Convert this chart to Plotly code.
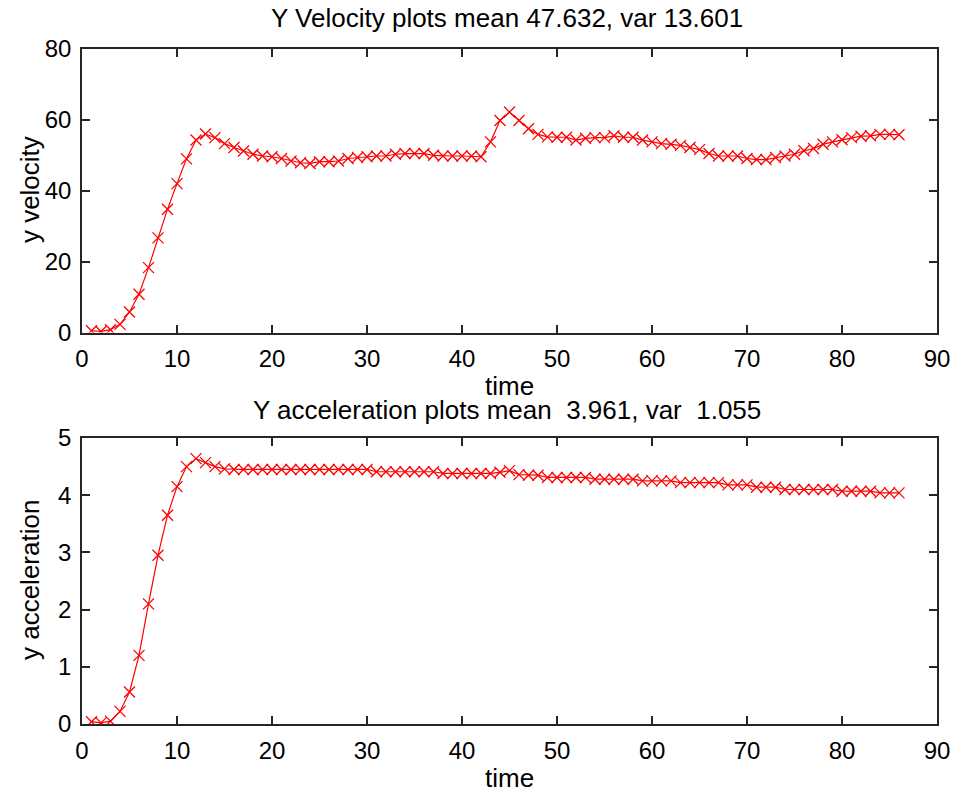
import plotly.graph_objects as go

time = list(range(1, 87))

y_velocity = [
    0.5, 0.3, 0.8, 2.3, 5.8, 10.8, 18.3, 26.7, 34.8, 42.0,
    49.0, 54.3, 56.0, 55.0, 53.3, 52.2, 51.2, 50.3, 49.8, 49.6,
    49.1, 48.4, 47.9, 47.7, 48.2, 48.2, 48.4, 49.1, 49.4, 49.6,
    49.8, 49.8, 50.3, 50.5, 50.5, 50.5, 50.0, 49.8, 49.8, 49.8,
    49.8, 49.6, 53.8, 59.8, 62.2, 59.8, 57.5, 55.9, 55.2, 55.1,
    55.1, 54.3, 54.8, 55.0, 55.0, 55.5, 55.1, 55.1, 54.3, 53.8,
    53.3, 53.1, 52.8, 52.2, 51.6, 50.5, 49.8, 49.8, 49.8, 49.1,
    48.8, 48.8, 49.4, 49.8, 50.3, 51.3, 51.9, 53.1, 53.8, 54.4,
    55.0, 55.4, 55.5, 55.9, 55.9, 55.8,
]

y_acceleration = [
    0.04, 0.02, 0.05, 0.22, 0.56, 1.20, 2.10, 2.95, 3.65, 4.15,
    4.50, 4.64, 4.57, 4.50, 4.46, 4.45, 4.45, 4.45, 4.45, 4.45,
    4.45, 4.45, 4.45, 4.45, 4.45, 4.45, 4.45, 4.45, 4.45, 4.45,
    4.41, 4.41, 4.41, 4.41, 4.41, 4.41, 4.41, 4.38, 4.38, 4.38,
    4.38, 4.38, 4.38, 4.40, 4.43, 4.36, 4.35, 4.35, 4.31, 4.31,
    4.31, 4.31, 4.31, 4.28, 4.28, 4.28, 4.28, 4.28, 4.25, 4.25,
    4.25, 4.25, 4.22, 4.22, 4.22, 4.22, 4.22, 4.18, 4.18, 4.18,
    4.14, 4.14, 4.14, 4.10, 4.10, 4.10, 4.10, 4.10, 4.10, 4.07,
    4.07, 4.07, 4.07, 4.04, 4.04, 4.04,
]

x_ticks = [0, 10, 20, 30, 40, 50, 60, 70, 80, 90]
vel_ticks = [0, 20, 40, 60, 80]
acc_ticks = [0, 1, 2, 3, 4, 5]

title_top = "Y Velocity plots mean 47.632, var 13.601"
title_bottom = "Y acceleration plots mean\u00a0\u00a03.961, var\u00a0\u00a01.055"

FONT = "Liberation Sans, Arial, sans-serif"
RED = "#ff0000"
AX = "#262626"

fig = go.Figure()
for xa, ya, vals in (("x", "y", y_velocity), ("x2", "y2", y_acceleration)):
    fig.add_trace(go.Scatter(
        x=time, y=vals, mode="lines+markers",
        line=dict(color=RED, width=1.2),
        marker=dict(symbol="x-thin-open", size=11, line=dict(color=RED, width=1.3)),
        xaxis=xa, yaxis=ya, showlegend=False,
    ))

axis_common = dict(
    showline=True, mirror="ticks", linecolor=AX, linewidth=1.5,
    ticks="inside", ticklen=8, tickwidth=1.5, tickcolor=AX,
    showgrid=False, zeroline=False, automargin=False,
    tickfont=dict(family=FONT, size=24, color="black"),
)

title_font = dict(family=FONT, size=26, color="black")

fig.update_layout(
    width=954, height=793,
    paper_bgcolor="white", plot_bgcolor="white",
    margin=dict(l=82, r=17, t=49, b=69),
    xaxis=dict(domain=[0, 1], range=[0, 90], tickvals=x_ticks, anchor="y",
               ticklabelstandoff=4, **axis_common),
    yaxis=dict(domain=[0.58, 1], range=[0, 80], tickvals=vel_ticks, anchor="x",
               ticklabelstandoff=4, **axis_common),
    xaxis2=dict(domain=[0, 1], range=[0, 90], tickvals=x_ticks, anchor="y2",
                ticklabelstandoff=4, **axis_common),
    yaxis2=dict(domain=[0, 0.4237], range=[0, 5], tickvals=acc_ticks, anchor="x2",
                ticklabelstandoff=4, **axis_common),
    annotations=[
        dict(text=title_top, x=0.497, y=1.046, xref="paper", yref="paper",
             showarrow=False, xanchor="center", yanchor="middle", font=title_font),
        dict(text="time", x=0.5, y=0.5007, xref="paper", yref="paper",
             showarrow=False, xanchor="center", yanchor="middle", font=title_font),
        dict(text=title_bottom, x=0.497, y=0.4655, xref="paper", yref="paper",
             showarrow=False, xanchor="center", yanchor="middle", font=title_font),
        dict(text="time", x=0.5, y=-0.08, xref="paper", yref="paper",
             showarrow=False, xanchor="center", yanchor="middle", font=title_font),
        dict(text="y velocity", x=-0.0608, y=0.791, xref="paper", yref="paper",
             showarrow=False, xanchor="center", yanchor="middle", textangle=-90,
             font=title_font),
        dict(text="y acceleration", x=-0.0608, y=0.2133, xref="paper", yref="paper",
             showarrow=False, xanchor="center", yanchor="middle", textangle=-90,
             font=title_font),
    ],
)

fig.write_html(
    "out.html",
    config={"displayModeBar": False},
    post_script="document.body.style.margin='0';document.body.style.overflow='hidden';",
)
